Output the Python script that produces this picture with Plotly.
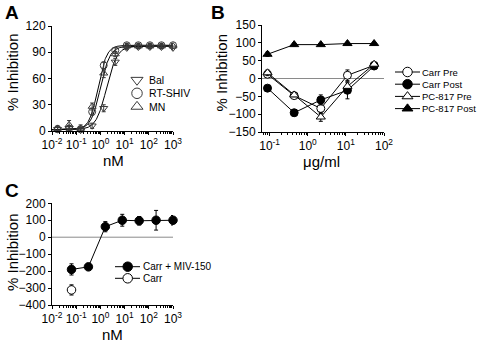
import numpy as np
import plotly.graph_objects as go

W, H = 481, 342
FONT = "Liberation Sans, Arial, sans-serif"

# ---------------- Panel A data ----------------
a_conc = [0.017, 0.051, 0.152, 0.457, 1.37, 4.12, 12.3, 37.0, 111, 333, 1000]
a_bal = [2, 3, 1, 6, 26, 79, 95, 96, 96, 96, 95]
a_bal_err = [2, 3, 2, 3, 4, 4, 2, 2, 2, 2, 2]
a_rtshiv = [2, 3, 2, 22, 75, 92, 98, 98, 98, 98, 98]
a_rtshiv_err = [2, 3, 2, 4, 4, 3, 2, 2, 2, 2, 2]
a_mn = [3, 7, 3, 28, 66, 88, 97, 97, 97, 97, 97]
a_mn_err = [3, 5, 4, 4, 5, 3, 2, 2, 2, 2, 2]
a_names = ["Bal", "RT-SHIV", "MN"]
a_symbols = ["triangle-down-open", "circle-open", "triangle-up-open"]
# sigmoid fit parameters
a_ic50 = [1.8, 0.8, 1.0]
a_hill = [2.0, 2.4, 2.2]
a_top = [97, 98, 97]
a_bottom = [1.5, 1.5, 1.5]

# ---------------- Panel B data ----------------
b_conc = [0.088, 0.44, 2.2, 11, 55]
b_carr_pre = [12, -48, -84, 9, 37]
b_carr_pre_err = [6, 6, 14, 15, 6]
b_carr_post = [-27, -96, -60, -33, 35]
b_carr_post_err = [4, 9, 14, 24, 5]
b_pc_pre = [16, -46, -108, -22, 40]
b_pc_pre_err = [8, 5, 12, 10, 5]
b_pc_post = [68, 95, 95, 98, 98]
b_pc_post_err = [6, 4, 3, 3, 3]
b_names = ["Carr Pre", "Carr Post", "PC-817 Pre", "PC-817 Post"]

# ---------------- Panel C data ----------------
c_conc = [0.064, 0.32, 1.6, 8, 40, 200, 1000]
c_carr_miv = [-190, -175, 62, 100, 97, 100, 100]
c_carr_miv_err = [33, 8, 30, 35, 25, 58, 28]
c_carr_conc = [0.064]
c_carr = [-311]
c_carr_err = [30]
c_names = ["Carr + MIV-150", "Carr"]

# tick labels
a_xticks = [0.01, 0.1, 1, 10, 100, 1000]
a_xticktext = ["10<sup>-2</sup>", "10<sup>-1</sup>", "10<sup>0</sup>",
               "10<sup>1</sup>", "10<sup>2</sup>", "10<sup>3</sup>"]
b_xticks = [0.1, 1, 10, 100]
b_xticktext = ["10<sup>-1</sup>", "10<sup>0</sup>", "10<sup>1</sup>", "10<sup>2</sup>"]
a_yticks = [0, 30, 60, 90, 120]
b_yticks = [-150, -100, -50, 0, 50, 100, 150]
c_yticks = [-400, -300, -200, -100, 0, 100, 200]

fig = go.Figure()

# ---- Panel A ----
GRAY = "#3a3a3a"
curve_x = np.logspace(-2, 3, 300)
for ic, h, top, bot in zip(a_ic50, a_hill, a_top, a_bottom):
    yy = bot + (top - bot) / (1 + (ic / curve_x) ** h)
    fig.add_trace(go.Scatter(x=curve_x, y=yy, mode="lines", xaxis="x", yaxis="y",
                             line=dict(color="black", width=1), showlegend=False,
                             hoverinfo="skip"))
for vals, errs, sym in zip([a_bal, a_rtshiv, a_mn], [a_bal_err, a_rtshiv_err, a_mn_err], a_symbols):
    fig.add_trace(go.Scatter(x=a_conc, y=vals, mode="markers", xaxis="x", yaxis="y",
                             marker=dict(symbol=sym, size=7, color=GRAY, line=dict(width=1, color=GRAY)),
                             error_y=dict(type="data", array=errs, color=GRAY, thickness=1, width=2),
                             showlegend=False, cliponaxis=False))

# ---- Panel B ----
b_series = [(b_carr_pre, b_carr_pre_err, "circle", "white"),
            (b_carr_post, b_carr_post_err, "circle", "black"),
            (b_pc_pre, b_pc_pre_err, "triangle-up", "white"),
            (b_pc_post, b_pc_post_err, "triangle-up", "black")]
for vals, errs, sym, fill in b_series:
    fig.add_trace(go.Scatter(x=b_conc, y=vals, mode="lines+markers", xaxis="x2", yaxis="y2",
                             line=dict(color="black", width=1),
                             marker=dict(symbol=sym, size=8, color=fill, line=dict(width=1, color="black")),
                             error_y=dict(type="data", array=errs, color="black", thickness=1, width=2),
                             showlegend=False, cliponaxis=False))

# ---- Panel C ----
fig.add_trace(go.Scatter(x=c_carr_conc, y=c_carr, mode="markers", xaxis="x3", yaxis="y3",
                         marker=dict(symbol="circle", size=8.5, color="white", line=dict(width=1, color="black")),
                         error_y=dict(type="data", array=c_carr_err, color="black", thickness=1, width=2),
                         showlegend=False, cliponaxis=False))
fig.add_trace(go.Scatter(x=c_conc, y=c_carr_miv, mode="lines+markers", xaxis="x3", yaxis="y3",
                         line=dict(color="black", width=1),
                         marker=dict(symbol="circle", size=8.5, color="black", line=dict(width=1, color="black")),
                         error_y=dict(type="data", array=c_carr_miv_err, color="black", thickness=1, width=2),
                         showlegend=False, cliponaxis=False))

# ---- Legends drawn on a pixel overlay axis ----
annotations = []

def text(x, y, s, size, xanchor="left", bold=False, angle=0):
    annotations.append(dict(x=x / W, y=1 - y / H, xref="paper", yref="paper", text=("<b>%s</b>" % s) if bold else s,
                            showarrow=False, xanchor=xanchor, yanchor="middle", textangle=angle,
                            borderpad=0, font=dict(family=FONT, size=size, color="black")))

# Legend A (markers only)
for i, (name, sym) in enumerate(zip(a_names, a_symbols)):
    y = 80 + 13.3 * i
    fig.add_trace(go.Scatter(x=[137], y=[y], mode="markers", xaxis="x4", yaxis="y4",
                             marker=dict(symbol=sym, size=10.5, color=GRAY, line=dict(width=1, color=GRAY)),
                             showlegend=False, hoverinfo="skip"))
    text(148, y, name, 10.5)

# Legend B
for i, (name, (vals, errs, sym, fill)) in enumerate(zip(b_names, b_series)):
    y = 72 + 12.2 * i
    fig.add_trace(go.Scatter(x=[395, 420], y=[y, y], mode="lines", xaxis="x4", yaxis="y4",
                             line=dict(color="black", width=1), showlegend=False, hoverinfo="skip"))
    fig.add_trace(go.Scatter(x=[407.5], y=[y], mode="markers", xaxis="x4", yaxis="y4",
                             marker=dict(symbol=sym, size=9.5, color=fill, line=dict(width=1, color="black")),
                             showlegend=False, hoverinfo="skip"))
    text(421, y, name, 9.5)

# Legend C
for i, (name, fill) in enumerate(zip(c_names, ["black", "white"])):
    y = 266.7 + 11.6 * i
    fig.add_trace(go.Scatter(x=[115, 140], y=[y, y], mode="lines", xaxis="x4", yaxis="y4",
                             line=dict(color="black", width=1), showlegend=False, hoverinfo="skip"))
    fig.add_trace(go.Scatter(x=[127.7], y=[y], mode="markers", xaxis="x4", yaxis="y4",
                             marker=dict(symbol="circle", size=9.5, color=fill, line=dict(width=1, color="black")),
                             showlegend=False, hoverinfo="skip"))
    text(142, y, name, 10)

# Panel letters
text(4, 13, "A", 19, bold=True)
text(210, 12, "B", 19, bold=True)
text(4, 190, "C", 19, bold=True)

# Axis titles
text(12, 72, "% Inhibition", 15, xanchor="center", angle=-90)
text(221, 72.5, "% Inhibition", 15, xanchor="center", angle=-90)
text(12, 252, "% Inhibition", 15, xanchor="center", angle=-90)
text(113, 160, "nM", 15, xanchor="center")
text(321, 161, "\u03bcg/ml", 15, xanchor="center")
text(112.5, 334, "nM", 15, xanchor="center")

ax_common = dict(showline=True, linecolor="black", linewidth=1, ticks="outside", ticklen=3,
                 tickcolor="black", tickwidth=1, showgrid=False, zeroline=False, automargin=False,
                 tickfont=dict(family=FONT, size=12, color="black"))
minor_log = dict(ticks="outside", ticklen=2, tickcolor="black", dtick="D1", showgrid=False)

fig.update_layout(
    width=W, height=H, margin=dict(l=0, r=0, t=0, b=0, pad=0, autoexpand=False),
    paper_bgcolor="white", plot_bgcolor="rgba(0,0,0,0)", showlegend=False,
    font=dict(family=FONT, color="black"),
    xaxis=dict(domain=[52 / W, 173 / W], type="log", range=[-2, 3], anchor="y",
               tickmode="array", tickvals=a_xticks, ticktext=a_xticktext, minor=minor_log,
               **ax_common),
    yaxis=dict(domain=[1 - 131 / H, 1 - 26 / H], range=[0, 120], anchor="x",
               tickmode="array", tickvals=a_yticks, **ax_common),
    xaxis2=dict(domain=[262 / W, 384 / W], type="log", range=[-1.2, 2.0], anchor="y2",
                tickmode="array", tickvals=b_xticks, ticktext=b_xticktext, minor=minor_log,
                **ax_common),
    yaxis2=dict(domain=[1 - 132 / H, 1 - 25 / H], range=[-150, 150], anchor="x2",
                tickmode="array", tickvals=b_yticks, **ax_common),
    xaxis3=dict(domain=[52 / W, 173 / W], type="log", range=[-2, 3], anchor="y3",
                tickmode="array", tickvals=a_xticks, ticktext=a_xticktext, minor=minor_log,
                **ax_common),
    yaxis3=dict(domain=[1 - 305 / H, 1 - 203.3 / H], range=[-400, 200], anchor="x3",
                tickmode="array", tickvals=c_yticks, **ax_common),
    xaxis4=dict(domain=[0, 1], range=[0, W], visible=False, anchor="y4", fixedrange=True, automargin=False),
    yaxis4=dict(domain=[0, 1], range=[H, 0], visible=False, anchor="x4", fixedrange=True, automargin=False),
    annotations=annotations,
    shapes=[
        dict(type="line", xref="x2 domain", yref="y2", x0=0, x1=1, y0=0, y1=0,
             line=dict(color="#8a8a8a", width=1), layer="below"),
        dict(type="line", xref="x3 domain", yref="y3", x0=0, x1=1, y0=0, y1=0,
             line=dict(color="#8a8a8a", width=1), layer="below"),
    ],
)

fig.write_html("out.html", config={"displayModeBar": False},
               post_script="document.body.style.margin='0';document.body.style.padding='0';")
